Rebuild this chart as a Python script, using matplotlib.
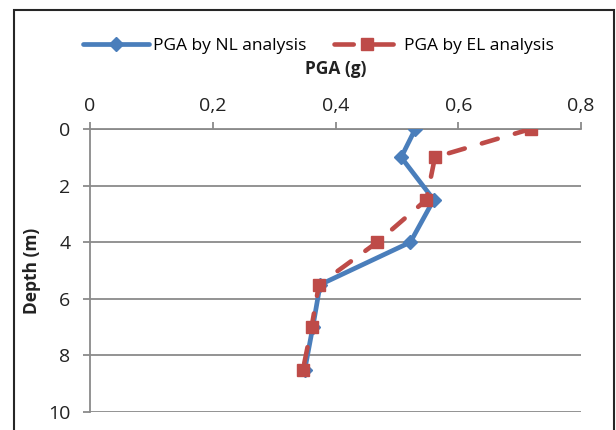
import numpy as np
import matplotlib
matplotlib.use('Agg')
import matplotlib.pyplot as plt
from matplotlib.patches import Rectangle
from matplotlib.lines import Line2D

# data
depth = [0, 1, 2.5, 4, 5.5, 7, 8.5]
pga_nl = [0.53, 0.507, 0.56, 0.522, 0.375, 0.363, 0.35]
pga_el = [0.718, 0.562, 0.548, 0.468, 0.373, 0.361, 0.347]
x_ticks = [0, 0.2, 0.4, 0.6, 0.8]
x_labels = ['0', '0,2', '0,4', '0,6', '0,8']
y_ticks = [0, 2, 4, 6, 8, 10]

plt.rcParams['font.family'] = ['Open Sans', 'DejaVu Sans']

W, H = 616, 430
blue = '#4a7ebb'
red = '#be4b48'
grey = '#8a8a8a'

fig = plt.figure(figsize=(W / 100, H / 100), dpi=100)
ax = fig.add_axes([90 / W, 1 - 412 / H, (581 - 90) / W, (412 - 129) / H])

ax.plot(pga_nl, depth, color=blue, lw=3.4, marker='D', ms=7, zorder=3)
ax.plot(pga_el, depth, color=red, lw=3.3, ls=(0, (3.6, 3.9)), marker='s', ms=9,
        dash_capstyle='round', zorder=4)

ax.set_xlim(0, 0.8)
ax.set_ylim(10, 0)
ax.xaxis.tick_top()
ax.set_xticks(x_ticks)
ax.set_xticklabels(x_labels)
ax.set_yticks(y_ticks)
ax.tick_params(axis='both', direction='out', length=5, width=1.3, color=grey,
               labelsize=14, labelcolor='#222222')
ax.tick_params(axis='x', pad=5)
ax.tick_params(axis='y', pad=9)
ax.grid(axis='y', color=grey, lw=1.3)
ax.set_axisbelow(True)
for s in ['right', 'bottom']:
    ax.spines[s].set_visible(False)
for s in ['left', 'top']:
    ax.spines[s].set_color(grey)
    ax.spines[s].set_linewidth(1.3)

# axis titles
fig.text(335.5 / W, 1 - 69 / H, 'PGA (g)', ha='center', va='center',
         fontsize=12.5, fontweight='bold', color='#222222')
fig.text(32 / W, 1 - 271 / H, 'Depth (m)', ha='center', va='center', rotation=90,
         fontsize=12.5, fontweight='bold', color='#222222')

# legend handles drawn like the Excel ones
h_nl = Line2D([], [], color=blue, lw=3.4, marker='D', ms=7, solid_capstyle='round')
h_el = Line2D([], [], color=red, lw=3.3, ls=(0, (4.2, 4.5)), marker='s', ms=9,
              dash_capstyle='round')
fig.legend([h_nl, h_el], ['PGA by NL analysis', 'PGA by EL analysis'], loc='center',
           bbox_to_anchor=(318.5 / W, 1 - 46 / H), ncol=2, frameon=False,
           fontsize=12.5, handlelength=3.8, columnspacing=1.6, handletextpad=0.25,
           borderpad=0)

# chart border
fig.patches.append(Rectangle((13.5 / W, -0.1), (614 - 13.5) / W, 1.1 - 10 / H,
                             transform=fig.transFigure, fill=False,
                             edgecolor='#262626', lw=1.5))

fig.savefig('out.png', dpi=100)
